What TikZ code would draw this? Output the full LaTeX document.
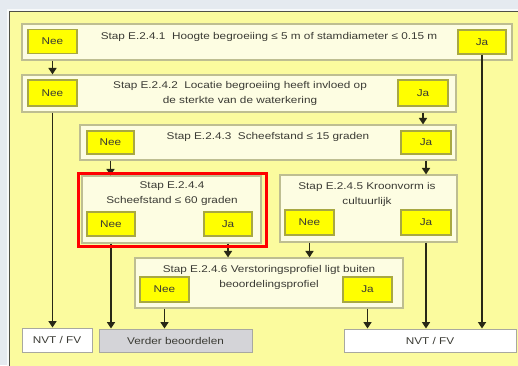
\documentclass[tikz,border=0pt]{standalone}
\usepackage{fontspec}
\newfontfamily\diagfont{Liberation Sans}[FakeStretch=1.2]
\usetikzlibrary{arrows.meta}

\definecolor{bgside}{RGB}{229,234,240}
\definecolor{panel}{RGB}{251,251,158}
\definecolor{panelline}{RGB}{80,80,70}
\definecolor{stepfill}{RGB}{253,253,226}
\definecolor{stepline}{RGB}{190,190,145}
\definecolor{answerfill}{RGB}{255,255,0}
\definecolor{answerline}{RGB}{168,168,66}
\definecolor{flowline}{RGB}{40,40,22}
\definecolor{txt}{RGB}{58,58,52}
\definecolor{endgray}{RGB}{212,212,216}
\definecolor{endline}{RGB}{168,168,160}

\tikzset{
  lbl/.style={font=\diagfont\fontsize{9.8}{15}\selectfont, text=txt},
  stepbox/.style={draw=stepline, fill=stepfill, line width=1.1pt, inner sep=0pt},
  steptext/.style={lbl, inner sep=0pt, align=center},
  answer/.style={lbl, draw=answerline, fill=answerfill, line width=1.1pt,
    inner sep=0pt, minimum width=49pt, minimum height=24pt},
  endbox/.style={lbl, draw=endline, line width=1pt, inner sep=0pt, minimum height=23pt},
  flow/.style={draw=flowline, line width=1.7pt, -{Triangle[length=6.5pt,width=8pt]}},
  focusbox/.style={draw=red, line width=3pt, inner sep=0pt},
}

\begin{document}
\begin{tikzpicture}[x=1pt,y=-1pt]
% page and panel
\fill[bgside] (0,0) rectangle (518,365);
\useasboundingbox (0,0) rectangle (518,365);
\fill[white!70!bgside] (7,9) rectangle (540,390);
\draw[panelline, line width=1.2pt, fill=panel] (9.5,11.5) rectangle (540,390);

% step E.2.4.1
\node[stepbox, minimum width=490pt, minimum height=36pt] (s1) at (267,42) {};
\node[steptext] (t1) at (269,36.5) {Stap E.2.4.1\ \ Hoogte begroeiing ≤ 5 m of stamdiameter ≤ 0.15 m};
\node[answer] (n1) at (52.5,41.5) {Nee};
\node[answer, minimum width=48pt] (j1) at (482,42) {Ja};

% step E.2.4.2
\node[stepbox, minimum width=434pt, minimum height=37pt] (s2) at (239,93.5) {};
\node[steptext] (t2) at (240,93.5) {Stap E.2.4.2\ \ Locatie begroeiing heeft invloed op\\de sterkte van de waterkering};
\node[answer, minimum height=26pt] (n2) at (52.5,93) {Nee};
\node[answer, minimum width=50pt, minimum height=26pt] (j2) at (423,93) {Ja};

% step E.2.4.3
\node[stepbox, minimum width=376pt, minimum height=35pt] (s3) at (268,142.5) {};
\node[steptext] (t3) at (268,137) {Stap E.2.4.3\ \ Scheefstand ≤ 15 graden};
\node[answer, minimum width=47pt, minimum height=23pt] (n3) at (110.5,142.5) {Nee};
\node[answer, minimum width=50pt, minimum height=23pt] (j3) at (426,142.5) {Ja};

% step E.2.4.4
\node[stepbox, minimum width=179pt, minimum height=67pt] (s4) at (171.5,209.5) {};
\node[steptext] (t4) at (172,194) {Stap E.2.4.4\\Scheefstand ≤ 60 graden};
\node[answer, minimum width=48pt] (n4) at (111,224) {Nee};
\node[answer, minimum width=48pt] (j4) at (228,224) {Ja};

% step E.2.4.5
\node[stepbox, minimum width=177pt, minimum height=67pt] (s5) at (368.5,208.5) {};
\node[steptext] (t5) at (367,194.5) {Stap E.2.4.5 Kroonvorm is\\cultuurlijk};
\node[answer, minimum height=25pt] (n5) at (309.5,222.5) {Nee};
\node[answer, minimum width=50pt, minimum height=25pt] (j5) at (426,222.5) {Ja};

% step E.2.4.6
\node[stepbox, minimum width=268pt, minimum height=50pt] (s6) at (269,283) {};
\node[steptext] (t6) at (269,277.5) {Stap E.2.4.6 Verstoringsprofiel ligt buiten\\beoordelingsprofiel};
\node[answer, minimum height=25pt] (n6) at (164.5,289.5) {Nee};
\node[answer, minimum height=25pt] (j6) at (367.5,289.5) {Ja};

% outcomes
\node[endbox, fill=white, minimum width=70pt, minimum height=24pt] (e1) at (57,340) {NVT / FV};
\node[endbox, fill=endgray, minimum width=153pt] (e2) at (175.5,340.5) {Verder beoordelen};
\node[endbox, fill=white, minimum width=172pt] (e3) at (430,340.5) {NVT / FV};

% connectors
\draw[flow] (n1.south |- s1.south) -- (n1.south |- s2.north);
\draw[flow] (n2.south |- s2.south) -- (n2.south |- e1.north);
\draw[flow] (j1.south) -- (j1.south |- e3.north);
\draw[flow] (j2.south |- s2.south) -- (j2.south |- s3.north);
\draw[flow] (n3.south |- s3.south) -- (n3.south |- s4.north);
\draw[flow] (j3.south |- s3.south) -- (j3.south |- s5.north);
\draw[flow] (n4.south |- s4.south) -- (n4.south |- e2.north);
\draw[flow] (j4.south |- s4.south) -- (j4.south |- s6.north);
\draw[flow] (n5.south |- s5.south) -- (n5.south |- s6.north);
\draw[flow] (j5.south |- s5.south) -- (j5.south |- e3.north);
\draw[flow] (n6.south |- s6.south) -- (n6.south |- e2.north);
\draw[flow] (j6.south |- s6.south) -- (j6.south |- e3.north);

% highlight around step E.2.4.4
\node[focusbox, minimum width=188pt, minimum height=73pt] (focus) at (172.5,209.5) {};
\end{tikzpicture}
\end{document}
